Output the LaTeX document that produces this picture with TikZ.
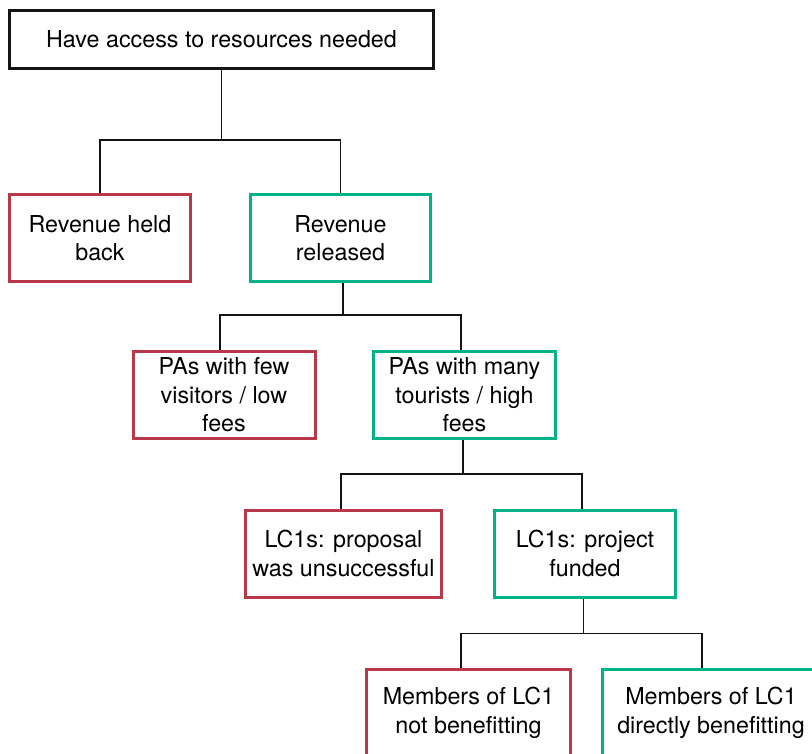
\documentclass[tikz,border=0pt]{standalone}
\usepackage{fontspec}
\setmainfont{TeX Gyre Heros}
\usepackage{tikz}
\usetikzlibrary{positioning}
\definecolor{red}{RGB}{185,56,74}
\definecolor{green}{RGB}{0,178,135}
\definecolor{black}{RGB}{20,20,20}

\begin{document}
\begin{tikzpicture}[x=1pt, y=-1pt,
box/.style={draw, rectangle, line width=3pt, align=center, inner sep=0pt,
  font=\fontsize{23.3}{28.4}\selectfont},
topbox/.style={box, draw=black, minimum width=424pt, minimum height=58pt},
redbox/.style={box, draw=red, minimum height=87pt},
greenbox/.style={box, draw=green, minimum height=87pt},
link/.style={draw=black, line width=1.8pt}]
% page
\useasboundingbox (0,0) rectangle (812,754);

% boxes
\node [topbox] (access) at (221.5,39.5) {Have access to resources needed};

\node [redbox, minimum width=181pt] (held) at (100,238) {Revenue held\\back};
\node [greenbox, minimum width=180pt] (released) at (340.5,238) {Revenue\\released};

\node [redbox, minimum width=182pt] (few) at (224,395) {PAs with few\\visitors / low\\fees};
\node [greenbox, minimum width=182pt] (many) at (464.5,395) {PAs with many\\tourists / high\\fees};

\node [redbox, minimum width=196pt] (unsucc) at (343.5,553.5) {LC1s: proposal\\was unsuccessful};
\node [greenbox, minimum width=181pt] (funded) at (585,553.5) {LC1s: project\\funded};

\node [redbox, minimum width=204pt] (notben) at (468.5,713) {Members of LC1\\not benefitting};
\node [greenbox, minimum width=217pt] (directben) at (711,713) {Members of LC1\\directly benefitting};

% links
\draw [link] (access.south) -- ++(0,70) coordinate (j1) -| (held.north) (j1) -| (released.north);
\draw [link] ([xshift=2.5pt]released.south) -- ++(0,32) coordinate (j2)
  -| ([xshift=-4pt]few.north) (j2) -| ([xshift=-3.5pt]many.north);
\draw [link] ([xshift=-1.5pt]many.south) -- ++(0,34) coordinate (j3)
  -| ([xshift=-2.5pt]unsucc.north) (j3) -| ([xshift=-3pt]funded.north);
\draw [link] ([xshift=-1.5pt]funded.south) -- ++(0,35) coordinate (j4)
  -| ([xshift=-7.5pt]notben.north) (j4) -| ([xshift=-9pt]directben.north);
\end{tikzpicture}
\end{document}
